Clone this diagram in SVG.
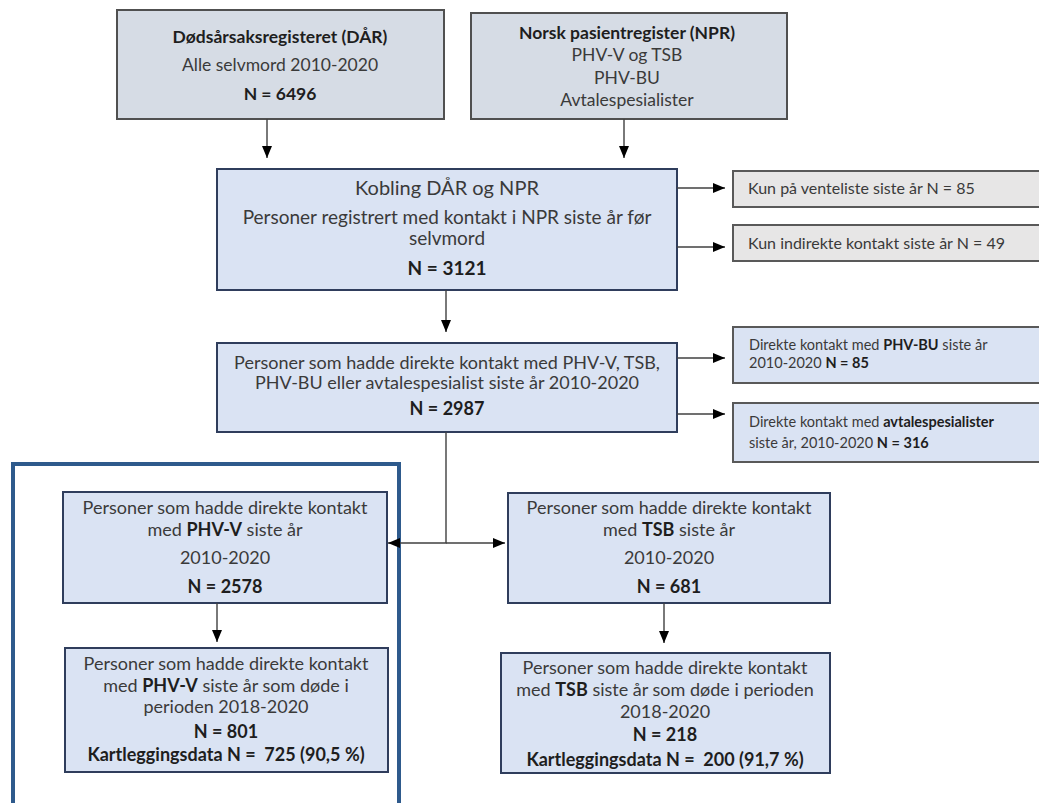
<svg xmlns="http://www.w3.org/2000/svg" width="1039" height="803" viewBox="0 0 1039 803">
<defs>
<marker id="ah" markerUnits="userSpaceOnUse" markerWidth="12" markerHeight="10" refX="12" refY="5" orient="auto">
<path d="M0,0 L12,5 L0,10 z" fill="#000"/>
</marker>
<style>
.src{fill:#d6dce5;stroke:#505050;stroke-width:2}
.main{fill:#dae3f3;stroke:#2f3d5c;stroke-width:2}
.grey{fill:#e7e6e6;stroke:#595959;stroke-width:2}
.side{fill:#dae3f3;stroke:#595959;stroke-width:2}
text{font-family:Lato,"Liberation Sans",sans-serif;fill:#3a3a3a}
.c{text-anchor:middle}
.b{font-weight:bold;fill:#1e1e1e}
.f17{font-size:17.5px}
.f18{font-size:18px}
.f19{font-size:19px}
.f20{font-size:20px}
.f16{font-size:16px}
.f14{font-size:14.5px}
.con{fill:none;stroke:#404040;stroke-width:1.4}
</style>
</defs>
<rect width="1039" height="803" fill="#fff"/>

<g id="dar">
<rect class="src" x="117" y="10" width="327" height="109"/>
<text class="c b f17" x="280" y="43">Dødsårsaksregisteret (DÅR)</text>
<text class="c f17" x="280" y="71">Alle selvmord 2010-2020</text>
<text class="c b f17" x="280" y="100">N = 6496</text>
</g>

<g id="npr">
<rect class="src" x="471" y="13" width="316" height="106"/>
<text class="c b f17" x="627" y="39">Norsk pasientregister (NPR)</text>
<text class="c f17" x="627" y="61">PHV-V og TSB</text>
<text class="c f17" x="627" y="84">PHV-BU</text>
<text class="c f17" x="627" y="106">Avtalespesialister</text>
</g>

<g id="kobling">
<rect class="main" x="217" y="169" width="460" height="121"/>
<text class="c f20" x="447" y="195">Kobling DÅR og NPR</text>
<text class="c f19" x="447" y="224">Personer registrert med kontakt i NPR siste år før</text>
<text class="c f19" x="447" y="245">selvmord</text>
<text class="c b f19" x="447" y="275">N = 3121</text>
</g>

<g id="venteliste">
<rect class="grey" x="733" y="171" width="310" height="36"/>
<text class="f16" x="748" y="194">Kun på venteliste siste år N = 85</text>
</g>

<g id="indirekte">
<rect class="grey" x="733" y="225" width="310" height="36"/>
<text class="f16" x="748" y="249">Kun indirekte kontakt siste år N = 49</text>
</g>

<g id="direkte">
<rect class="main" x="217" y="343" width="460" height="89"/>
<text class="c f18" x="447" y="369">Personer som hadde direkte kontakt med PHV-V, TSB,</text>
<text class="c f18" x="447" y="389">PHV-BU eller avtalespesialist siste år 2010-2020</text>
<text class="c b f18" x="447" y="415">N = 2987</text>
</g>

<g id="phvbu">
<rect class="side" x="733" y="327" width="310" height="56"/>
<text class="f14" x="749" y="350">Direkte kontakt med <tspan class="b">PHV-BU</tspan> siste år</text>
<text class="f14" x="749" y="368">2010-2020 <tspan class="b">N = 85</tspan></text>
</g>

<g id="avtale">
<rect class="side" x="733" y="403" width="310" height="59"/>
<text class="f14" x="749" y="427">Direkte kontakt med <tspan class="b">avtalespesialister</tspan></text>
<text class="f14" x="749" y="448">siste år, 2010-2020 <tspan class="b">N = 316</tspan></text>
</g>

<g id="frame">
<path d="M13,808 V464 H399 V808" fill="none" stroke="#2e5a8c" stroke-width="4"/>
</g>

<g id="phvv">
<rect class="main" x="63" y="492" width="324" height="111"/>
<text class="c f18" x="225" y="514">Personer som hadde direkte kontakt</text>
<text class="c f18" x="225" y="536">med <tspan class="b">PHV-V</tspan> siste år</text>
<text class="c f18" x="225" y="564">2010-2020</text>
<text class="c b f18" x="225" y="593">N = 2578</text>
</g>

<g id="phvv2">
<rect class="main" x="65" y="648" width="323" height="124"/>
<text class="c f18" x="226" y="670">Personer som hadde direkte kontakt</text>
<text class="c f18" x="226" y="692">med <tspan class="b">PHV-V</tspan> siste år som døde i</text>
<text class="c f18" x="226" y="713">perioden 2018-2020</text>
<text class="c b f18" x="226" y="738">N = 801</text>
<text class="c b f18" x="226" y="761">Kartleggingsdata N =&#160; 725 (90,5 %)</text>
</g>

<g id="tsb">
<rect class="main" x="508" y="493" width="322" height="110"/>
<text class="c f18" x="669" y="514">Personer som hadde direkte kontakt</text>
<text class="c f18" x="669" y="536">med <tspan class="b">TSB</tspan> siste år</text>
<text class="c f18" x="669" y="564">2010-2020</text>
<text class="c b f18" x="669" y="593">N = 681</text>
</g>

<g id="tsb2">
<rect class="main" x="501" y="653" width="329" height="120"/>
<text class="c f18" x="665" y="674">Personer som hadde direkte kontakt</text>
<text class="c f18" x="665" y="696">med <tspan class="b">TSB</tspan> siste år som døde i perioden</text>
<text class="c f18" x="665" y="718">2018-2020</text>
<text class="c b f18" x="665" y="741">N = 218</text>
<text class="c b f18" x="665" y="766">Kartleggingsdata N =&#160; 200 (91,7 %)</text>
</g>

<g id="connectors">
<path class="con" d="M267,119 V158" marker-end="url(#ah)"/>
<path class="con" d="M624,119 V158" marker-end="url(#ah)"/>
<path class="con" d="M446,290 V332" marker-end="url(#ah)"/>
<path class="con" d="M677,188 H725" marker-end="url(#ah)"/>
<path class="con" d="M677,247 H725" marker-end="url(#ah)"/>
<path class="con" d="M677,358 H725" marker-end="url(#ah)"/>
<path class="con" d="M677,414 H725" marker-end="url(#ah)"/>
<path class="con" d="M446,432 V543 H388" marker-end="url(#ah)"/>
<path class="con" d="M446,543 H505" marker-end="url(#ah)"/>
<path class="con" d="M217,603 V642" marker-end="url(#ah)"/>
<path class="con" d="M664,603 V643" marker-end="url(#ah)"/>
</g>
</svg>
